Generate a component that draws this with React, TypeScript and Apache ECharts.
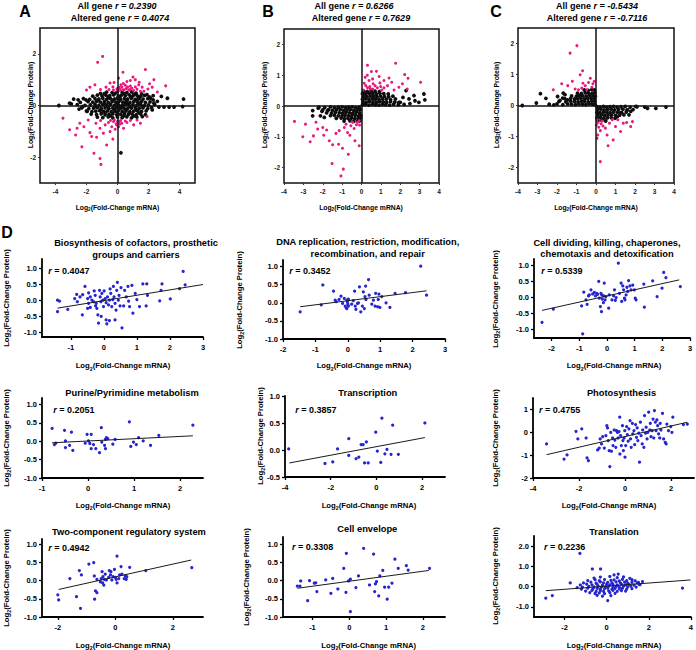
import React, { useEffect, useRef } from "react";
import * as echarts from "echarts";

type P = [number, number];
const FONT = "'Liberation Sans', Arial, Helvetica, sans-serif";
const PINK = "#e8187c";
const BLUE = "#2626cf";

// ---------------- Panel A ----------------
const aTitle = ["0.2390", "0.4074"];
const aBlack: P[] = [
  [-1.1,0.47],[-0.7,0.52],[-0.35,0.5],[0.0,0.55],[0.3,0.52],[0.6,0.5],[0.9,0.53],[1.2,0.48],[1.55,0.45],[1.9,0.42],[2.3,0.38],
  [-1.6,0.36],[-1.3,0.4],[-1.0,0.37],[-0.75,0.4],[-0.5,0.38],[-0.25,0.41],[0.05,0.37],[0.25,0.4],[0.5,0.38],[0.75,0.41],[1.0,0.37],[1.25,0.4],[1.5,0.36],[1.75,0.39],[2.05,0.33],
  [-2.2,0.27],[-1.8,0.24],[-1.45,0.27],[-1.2,0.25],[-0.95,0.28],[-0.7,0.24],[-0.45,0.27],[-0.2,0.25],[0.0,0.28],[0.2,0.24],[0.45,0.27],[0.65,0.25],[0.9,0.28],[1.15,0.24],[1.4,0.27],[1.65,0.25],[1.95,0.27],[2.3,0.22],
  [-2.4,0.12],[-1.9,0.15],[-1.6,0.13],[-1.35,0.16],[-1.1,0.13],[-0.85,0.15],[-0.6,0.12],[-0.35,0.15],[-0.1,0.13],[0.1,0.16],[0.35,0.13],[0.55,0.15],[0.8,0.12],[1.05,0.15],[1.3,0.13],[1.55,0.16],[1.8,0.12],[2.1,0.14],
  [-2.6,0.03],[-2.1,0.0],[-1.75,0.02],[-1.45,0.04],[-1.2,0.0],[-0.95,0.03],[-0.7,0.01],[-0.45,0.04],[-0.2,0.0],[0.05,0.03],[0.3,0.01],[0.5,0.04],[0.75,0.0],[1.0,0.03],[1.25,0.01],[1.5,0.04],[1.75,0.0],[2.0,0.02],[2.4,0.03],
  [-2.3,-0.09],[-1.85,-0.12],[-1.55,-0.1],[-1.3,-0.08],[-1.05,-0.11],[-0.8,-0.09],[-0.55,-0.12],[-0.3,-0.1],[-0.05,-0.08],[0.2,-0.11],[0.4,-0.09],[0.65,-0.12],[0.9,-0.1],[1.15,-0.08],[1.4,-0.11],[1.65,-0.09],[1.95,-0.12],[2.2,-0.08],
  [-2.0,-0.21],[-1.65,-0.24],[-1.4,-0.22],[-1.15,-0.2],[-0.9,-0.23],[-0.65,-0.21],[-0.4,-0.24],[-0.15,-0.22],[0.05,-0.2],[0.3,-0.23],[0.55,-0.21],[0.8,-0.24],[1.05,-0.22],[1.3,-0.2],[1.55,-0.23],[1.85,-0.21],
  [-1.7,-0.33],[-1.35,-0.35],[-1.05,-0.32],[-0.8,-0.36],[-0.55,-0.34],[-0.3,-0.32],[-0.05,-0.36],[0.2,-0.34],[0.45,-0.32],[0.7,-0.35],[0.95,-0.33],[1.2,-0.36],[1.5,-0.33],[1.8,-0.35],
  [-1.3,-0.45],[-0.95,-0.47],[-0.6,-0.44],[-0.3,-0.48],[0.0,-0.45],[0.3,-0.47],[0.6,-0.44],[0.9,-0.48],[1.25,-0.45],[1.6,-0.43],
  [-0.85,0.46],[-0.15,0.47],[0.45,0.46],[1.05,0.44],[-0.6,0.32],[0.15,0.31],[0.85,0.33],[1.35,0.32],[-1.25,0.2],[-0.3,0.2],[0.6,0.2],[1.25,0.19],[-0.85,0.07],[-0.05,0.07],[0.65,0.07],[1.4,0.08],
  [-1.45,-0.04],[-0.6,-0.04],[0.15,-0.04],[0.85,-0.05],[1.6,-0.04],[-1.05,-0.16],[-0.2,-0.16],[0.5,-0.16],[1.2,-0.15],[-0.8,-0.28],[0.0,-0.28],[0.75,-0.29],[1.35,-0.28],[-0.45,-0.4],[0.4,-0.4],[1.05,-0.41],
  [-3.78,0.0],[-3.09,0.09],[-2.83,0.25],[-2.98,0.06],[-2.54,0.22],[-2.48,-0.14],[-2.26,-0.04],[-2.04,0.22],[-1.96,-0.23],[2.67,-0.06],[3.0,-0.06],[3.22,0.28],[3.33,-0.06],[3.65,-0.06],[4.26,0.25],[4.2,-0.04],[2.83,0.35],[2.57,0.16],[2.35,0.09],[2.24,-0.17],[2.13,0.28],[0.22,-1.83],
];
const aPink: P[] = [
  [-1.28,1.67],[-0.96,1.9],[0.35,1.29],[1.8,1.39],[1.0,1.1],[1.15,1.0],[2.35,1.0],[2.07,0.84],[3.11,0.76],[0.61,0.93],[0.83,0.97],[-0.22,0.89],[0.07,1.06],[1.37,0.8],[1.59,0.71],[-1.78,0.71],[-1.46,0.8],[-0.48,0.87],[-0.74,0.71],[0.28,0.71],[0.43,0.61],[0.57,0.66],[0.72,0.6],[0.93,0.67],[1.04,0.58],[1.26,0.63],[1.48,0.55],[0.17,0.62],[-0.04,0.65],[-0.26,0.6],[0.22,0.8],[0.5,0.78],[0.83,0.75],[1.15,0.72],[1.7,0.55],[-2.0,0.6],[1.96,0.64],[2.57,0.52],[2.24,0.71],[-1.1,0.62],[-0.55,0.62],[0.1,0.7],[0.38,0.85],[0.65,0.72],[-0.3,0.72],[1.4,0.9],[0.0,0.58],[0.35,0.6],[0.8,0.62],
  [-3.52,-0.49],[-3.09,-0.94],[-2.7,-1.14],[-2.61,-0.88],[-2.43,-0.69],[-2.17,-0.82],[-1.89,-0.56],[-1.78,-1.05],[-1.67,-1.2],[-1.35,-1.23],[-1.39,-0.69],[-1.13,-0.88],[-1.09,-0.58],[-0.91,-1.07],[-0.7,-1.53],[-1.52,-1.85],[-1.07,-2.28],[-1.13,-2.05],[-0.8,-0.75],[-0.59,-0.66],[-0.37,-0.82],[-0.26,-0.62],[-0.09,-0.71],[0.07,-0.82],[0.13,-0.62],[0.28,-0.69],[-0.15,-0.92],[-0.48,-1.01],[0.39,-0.88],[0.61,-0.66],[0.83,-0.58],[1.04,-0.75],[1.26,-0.56],[1.48,-0.69],[1.91,-0.43],[-0.2,-0.56],[0.0,-0.62],[0.2,-0.58],[-0.45,-0.58],[0.5,-0.6],[-0.05,-0.75],[0.15,-0.72],[-2.3,-1.6],[-0.3,-1.3],
];

// ---------------- Panel B ----------------
const bTitle = ["0.6266", "0.7629"];
const bBlack: P[] = [
  [0.05,0.04],[0.2,0.05],[0.38,0.03],[0.55,0.05],[0.72,0.04],[0.9,0.03],[1.08,0.05],[1.25,0.04],[1.45,0.03],[1.65,0.05],[1.9,0.04],[2.2,0.05],
  [0.08,0.13],[0.25,0.12],[0.42,0.14],[0.6,0.13],[0.78,0.12],[0.95,0.14],[1.12,0.13],[1.3,0.12],[1.5,0.14],[1.72,0.13],[2.0,0.12],
  [0.05,0.22],[0.2,0.23],[0.38,0.21],[0.55,0.23],[0.72,0.22],[0.9,0.21],[1.08,0.23],[1.28,0.22],[1.5,0.21],[1.75,0.23],
  [0.1,0.31],[0.28,0.3],[0.45,0.32],[0.62,0.31],[0.8,0.3],[0.98,0.32],[1.18,0.31],[1.4,0.3],[1.62,0.32],
  [0.05,0.4],[0.22,0.39],[0.4,0.41],[0.58,0.4],[0.76,0.39],[0.95,0.41],[1.15,0.4],[1.38,0.39],
  [0.12,0.48],[0.3,0.47],[0.5,0.49],[0.7,0.48],[0.92,0.47],
  [3.22,0.39],[3.27,0.2],[2.71,0.34],[2.76,0.17],[2.45,0.23],[2.14,0.28],[2.96,0.12],[1.93,0.12],[2.5,0.08],[2.3,0.5],
  [-2.2,-0.04],[-1.9,-0.05],[-1.6,-0.03],[-1.4,-0.05],[-1.2,-0.04],[-1.0,-0.03],[-0.82,-0.05],[-0.65,-0.04],[-0.48,-0.03],[-0.3,-0.05],[-0.12,-0.04],
  [-2.0,-0.13],[-1.7,-0.12],[-1.5,-0.14],[-1.3,-0.13],[-1.1,-0.12],[-0.92,-0.14],[-0.75,-0.13],[-0.58,-0.12],[-0.4,-0.14],[-0.22,-0.13],[-0.06,-0.12],
  [-1.8,-0.22],[-1.55,-0.23],[-1.35,-0.21],[-1.15,-0.22],[-0.98,-0.23],[-0.8,-0.21],[-0.62,-0.22],[-0.45,-0.23],[-0.28,-0.21],[-0.1,-0.22],
  [-1.6,-0.31],[-1.4,-0.3],[-1.2,-0.32],[-1.0,-0.31],[-0.85,-0.3],[-0.68,-0.32],[-0.5,-0.31],[-0.32,-0.3],[-0.15,-0.32],[-0.03,-0.31],
  [-1.3,-0.4],[-1.05,-0.39],[-0.88,-0.41],[-0.7,-0.4],[-0.52,-0.39],[-0.35,-0.41],[-0.18,-0.4],[-0.05,-0.39],
  [-0.9,-0.49],[-0.6,-0.48],[-0.4,-0.5],[-0.2,-0.49],[-0.08,-0.48],
  [-2.52,-0.15],[-2.23,-0.07],[-2.04,-0.17],[-1.92,-0.37],[-2.12,-0.32],[-1.75,-0.15],[-2.52,-0.32],
];
const bPink: P[] = [
  [0.31,1.32],[0.51,1.12],[0.77,1.13],[1.76,1.39],[2.23,1.02],[2.4,0.9],[3.05,0.77],[0.19,0.93],[0.39,0.83],[0.57,0.88],[0.91,0.96],[1.16,0.83],[1.42,0.91],[1.56,0.77],[0.22,0.66],[0.31,0.59],[0.43,0.63],[0.57,0.55],[0.7,0.66],[0.82,0.59],[0.99,0.63],[1.16,0.59],[1.34,0.66],[0.09,0.52],[1.93,0.61],[2.11,0.72],[2.36,0.55],[0.14,0.74],[1.68,0.52],[0.6,0.72],[0.95,0.75],[0.45,0.55],[1.05,0.52],[0.3,1.0],
  [-3.46,-0.5],[-2.89,-0.59],[-3.03,-1.0],[-2.65,-1.16],[-2.48,-0.97],[-2.26,-0.75],[-2.0,-0.7],[-1.8,-0.78],[-1.66,-1.13],[-1.49,-1.26],[-1.52,-1.87],[-0.94,-2.05],[-1.06,-2.27],[-1.18,-1.24],[-0.98,-1.37],[-0.68,-1.57],[-1.32,-0.89],[-1.15,-0.8],[-0.89,-0.7],[-0.72,-0.86],[-0.55,-0.64],[-0.38,-0.73],[-0.26,-0.61],[-0.12,-0.48],[-0.21,-0.53],[-0.46,-0.53],[-0.8,-0.59],[-0.34,-1.13],[-0.12,-1.29],[-2.35,-0.53],[-0.1,-0.62],[-0.6,-0.95],[-1.95,-0.95],
];

// ---------------- Panel C ----------------
const cTitle = ["-0.5434", "-0.7116"];
const cBlack: P[] = [
  [-2.4,0.04],[-2.0,0.05],[-1.7,0.03],[-1.45,0.05],[-1.25,0.04],[-1.05,0.03],[-0.88,0.05],[-0.7,0.04],[-0.52,0.03],[-0.35,0.05],[-0.18,0.04],[-0.05,0.03],
  [-1.9,0.13],[-1.55,0.12],[-1.3,0.14],[-1.1,0.13],[-0.92,0.12],[-0.75,0.14],[-0.58,0.13],[-0.4,0.12],[-0.22,0.14],[-0.06,0.13],
  [-1.6,0.22],[-1.3,0.23],[-1.1,0.21],[-0.95,0.22],[-0.78,0.23],[-0.6,0.21],[-0.42,0.22],[-0.25,0.23],[-0.08,0.21],
  [-1.25,0.31],[-1.0,0.3],[-0.85,0.32],[-0.68,0.31],[-0.5,0.3],[-0.32,0.32],[-0.15,0.31],[-0.04,0.3],
  [-0.95,0.4],[-0.75,0.39],[-0.55,0.41],[-0.38,0.4],[-0.2,0.39],[-0.06,0.41],
  [-0.6,0.5],[-0.4,0.49],[-0.22,0.51],[-0.08,0.5],
  [-3.78,0.0],[-3.06,0.08],[-2.85,0.38],[-2.57,0.23],[-2.16,0.02],[-1.97,0.29],[-1.85,0.16],[-1.71,0.24],[-1.59,0.35],[-1.68,0.4],[-1.47,0.18],
  [0.05,-0.04],[0.2,-0.05],[0.38,-0.03],[0.55,-0.05],[0.72,-0.04],[0.9,-0.03],[1.08,-0.05],[1.28,-0.04],[1.5,-0.03],[1.75,-0.05],[2.1,-0.04],[2.5,-0.05],
  [0.08,-0.13],[0.25,-0.12],[0.42,-0.14],[0.6,-0.13],[0.78,-0.12],[0.95,-0.14],[1.15,-0.13],[1.38,-0.12],[1.6,-0.14],[1.9,-0.13],
  [0.05,-0.22],[0.2,-0.23],[0.38,-0.21],[0.55,-0.22],[0.72,-0.23],[0.9,-0.21],[1.1,-0.22],[1.32,-0.23],[1.55,-0.21],
  [0.1,-0.31],[0.28,-0.3],[0.45,-0.32],[0.62,-0.31],[0.8,-0.3],[1.0,-0.32],[1.22,-0.31],
  [0.05,-0.4],[0.22,-0.39],[0.4,-0.41],[0.58,-0.4],[0.78,-0.39],[0.98,-0.41],
  [0.1,-0.49],[0.3,-0.48],[0.5,-0.5],
  [3.59,-0.05],[3.07,-0.09],[2.64,-0.09],[2.04,-0.03],[1.78,-0.19],[1.61,-0.14],[1.43,-0.3],[1.69,-0.3],[1.26,-0.23],[1.09,-0.36],
];
const cPink: P[] = [
  [-0.98,1.93],[-1.33,1.69],[-0.69,1.12],[-0.81,0.99],[-0.29,0.88],[-0.38,0.74],[-0.09,0.78],[-1.21,0.78],[-1.45,0.64],[-1.76,0.7],[-2.19,0.51],[-1.07,0.53],[-0.9,0.51],[-0.73,0.56],[-0.55,0.64],[-0.47,0.51],[-0.21,0.59],[-0.67,0.72],[-0.16,0.7],
  [0.05,-0.46],[0.02,-0.63],[0.05,-1.06],[0.14,-0.7],[0.26,-0.59],[0.36,-0.66],[0.22,-0.81],[0.48,-0.73],[0.69,-0.57],[0.57,-0.95],[0.62,-1.3],[0.88,-1.11],[0.22,-1.81],[1.0,-0.68],[1.26,-0.84],[1.57,-0.55],[1.78,-0.68],[1.87,-0.52],[1.4,-0.57],[1.12,-0.46],[0.83,-0.46],[0.09,-0.95],[0.1,-0.55],[0.3,-0.5],
];

// ---------------- Panel D ----------------
const dTitles: string[][] = [
  ["Biosynthesis of cofactors, prosthetic", "groups and carriers"],
  ["DNA replication, restriction, modification,", "recombination, and repair"],
  ["Cell dividing, killing, chaperones,", "chemotaxis and detoxification"],
  ["Purine/Pyrimidine metabolism"],
  ["Transcription"],
  ["Photosynthesis"],
  ["Two-component regulatory system"],
  ["Cell envelope"],
  ["Translation"],
];
const dR = ["0.4047", "0.3452", "0.5339", "0.2051", "0.3857", "0.4755", "0.4942", "0.3308", "0.2236"];

const d1: P[] = [[-1.4,0.01],[-1.34,-0.02],[-1.4,-0.35],[-1.09,-0.28],[-0.88,0.06],[-0.8,-0.04],[-0.64,0.18],[-0.65,-0.45],[-0.57,0.44],[-0.49,0.06],[-0.46,0.24],[-0.46,-0.09],[-0.49,-0.25],[-0.41,-0.22],[-0.36,0.01],[-0.29,0.3],[-0.26,0.16],[-0.23,-0.09],[-0.21,-0.25],[-0.18,-0.45],[-0.16,-0.71],[-0.13,0.32],[-0.11,0.11],[-0.09,-0.04],[-0.08,-0.5],[-0.06,0.22],[-0.03,0.01],[-0.01,-0.19],[0.01,0.3],[0.04,0.06],[0.07,-0.07],[0.07,-0.61],[0.09,-0.73],[0.11,0.11],[0.14,-0.14],[0.17,0.01],[0.17,-0.63],[0.19,0.36],[0.21,0.22],[0.24,-0.19],[0.27,0.03],[0.29,0.44],[0.31,0.11],[0.34,-0.09],[0.34,-0.61],[0.37,-0.3],[0.39,0.32],[0.41,0.57],[0.44,0.01],[0.46,0.16],[0.49,-0.17],[0.52,0.4],[0.55,-0.86],[0.6,-0.17],[0.63,0.32],[0.68,0.11],[0.73,0.44],[0.75,-0.02],[0.78,-0.19],[0.85,0.47],[0.88,-0.4],[0.95,0.22],[1.0,0.03],[1.08,-0.19],[1.18,0.52],[1.3,0.52],[1.28,-0.17],[1.32,0.16],[1.69,-0.01],[1.76,0.52],[1.73,0.32],[2.01,0.05],[2.29,0.37],[2.4,0.91],[2.46,0.49],[-0.82,0.19],[-0.72,0.11],[-0.41,0.11],[-0.31,-0.04],[-0.25,-0.17]];
const d2: P[] = [[-1.47,-0.25],[-0.77,0.49],[-0.82,-0.06],[-0.44,0.32],[-0.39,0.07],[-0.36,0.03],[-0.27,0.09],[-0.21,0.18],[-0.16,-0.02],[-0.11,0.12],[-0.08,-0.09],[-0.05,-0.14],[-0.03,0.07],[-0.01,0.02],[0.0,-0.04],[0.02,0.1],[0.02,-0.09],[-0.03,-0.16],[0.12,-0.04],[0.17,0.06],[0.21,0.32],[0.23,-0.09],[0.25,-0.18],[0.3,-0.02],[0.33,0.0],[0.36,0.44],[0.4,-0.25],[0.45,-0.09],[0.48,0.3],[0.51,-0.16],[0.53,0.17],[0.56,0.09],[0.55,0.46],[0.64,0.64],[0.66,0.21],[0.74,-0.04],[0.79,0.07],[0.84,-0.09],[0.86,0.26],[0.92,-0.11],[0.96,0.24],[0.94,0.09],[0.99,-0.13],[1.05,0.17],[1.18,0.0],[1.3,-0.13],[1.46,0.26],[1.78,0.28],[2.25,1.01],[2.43,0.21]];
const d3: P[] = [[-2.35,-0.77],[-1.94,-0.36],[-0.88,-1.13],[-0.92,-0.26],[-0.84,0.17],[-0.76,-0.07],[-0.72,-0.21],[-0.67,0.05],[-0.64,0.08],[-0.58,0.24],[-0.52,0.11],[-0.46,0.16],[-0.42,0.05],[-0.37,0.13],[-0.34,0.1],[-0.3,0.5],[-0.28,-0.02],[-0.24,-0.28],[-0.22,0.13],[-0.2,-0.44],[-0.19,0.08],[-0.17,-0.05],[-0.13,-0.16],[-0.12,0.05],[-0.1,0.45],[-0.07,-0.07],[-0.04,0.03],[0.06,-0.33],[0.08,0.08],[0.18,-0.07],[0.24,0.05],[0.27,0.24],[0.3,-0.09],[0.33,0.0],[0.41,1.07],[0.45,0.13],[0.51,0.45],[0.53,-0.12],[0.57,0.36],[0.6,0.24],[0.63,-0.02],[0.65,-0.07],[0.69,0.08],[0.72,0.32],[0.75,0.19],[0.78,0.53],[0.83,0.36],[0.87,0.24],[0.93,0.39],[0.99,0.24],[1.02,-0.02],[1.05,-0.07],[1.35,-0.3],[1.33,0.42],[1.65,0.52],[1.81,0.03],[1.99,0.29],[2.05,0.78],[2.13,0.62],[2.65,0.34]];
const d4: P[] = [[-0.78,0.35],[-0.73,-0.09],[-0.7,-0.05],[-0.51,0.3],[-0.49,0.01],[-0.49,-0.17],[-0.4,-0.11],[-0.36,0.25],[-0.33,-0.25],[-0.06,-0.05],[-0.02,0.19],[0.01,0.01],[0.04,-0.06],[0.07,0.19],[0.07,-0.2],[0.12,-0.09],[0.17,-0.2],[0.25,-0.31],[0.29,0.37],[0.3,-0.02],[0.36,-0.11],[0.38,0.05],[0.4,0.1],[0.43,0.07],[0.38,-0.2],[0.54,-0.08],[0.59,0.05],[0.9,0.53],[0.93,-0.14],[0.99,-0.02],[1.05,-0.09],[1.1,0.1],[1.2,0.01],[1.36,-0.11],[1.54,0.16],[2.28,0.44]];
const d5: P[] = [[-3.84,0.02],[-2.25,-0.25],[-1.91,-0.22],[-1.7,0.02],[-1.21,0.21],[-1.21,-0.1],[-0.89,-0.16],[-0.77,-0.13],[-0.67,0.1],[-0.58,0.1],[-0.52,-0.24],[-0.44,0.15],[-0.36,-0.24],[-0.03,0.33],[0.04,-0.02],[0.19,-0.23],[0.24,0.59],[0.37,-0.07],[0.46,0.01],[0.64,-0.08],[0.71,0.46],[0.96,-0.08],[2.12,0.5]];
const d6: P[] = [[-3.41,-0.51],[-2.65,-1.17],[-2.52,-0.99],[-2.13,0.04],[-2.05,-0.29],[-1.88,0.15],[-1.69,-0.25],[-1.65,-1.12],[-1.59,-1.24],[-1.19,-0.77],[-1.12,-0.69],[-1.08,-0.29],[-1.02,-0.51],[-0.97,-0.19],[-0.9,-0.69],[-0.83,-0.15],[-0.79,0.29],[-0.76,0.19],[-0.73,-0.36],[-0.69,-0.8],[-0.66,-1.5],[-0.62,0.0],[-0.59,-0.83],[-0.54,-0.25],[-0.52,-0.58],[-0.47,0.1],[-0.44,-0.34],[-0.4,-0.66],[-0.37,0.07],[-0.33,0.0],[-0.3,-0.25],[-0.26,0.03],[-0.23,0.66],[-0.22,-0.95],[-0.19,-0.15],[-0.16,-0.58],[-0.11,0.29],[-0.09,-0.36],[-0.07,-0.8],[-0.04,-0.25],[-0.01,0.07],[0.0,-1.09],[0.03,-0.58],[0.07,0.25],[0.1,-0.1],[0.14,-0.39],[0.17,0.15],[0.22,0.51],[0.24,-0.29],[0.27,-0.66],[0.32,0.39],[0.34,-0.07],[0.39,0.07],[0.42,-0.54],[0.46,0.34],[0.5,-0.22],[0.53,0.19],[0.56,-0.36],[0.6,-0.04],[0.63,-1.31],[0.67,0.44],[0.7,-0.15],[0.75,-0.51],[0.77,0.1],[0.82,-0.66],[0.85,0.73],[0.89,-0.04],[0.92,0.22],[0.96,-0.29],[0.99,0.0],[1.03,0.88],[1.08,0.1],[1.1,0.39],[1.13,-0.19],[1.18,0.07],[1.22,0.58],[1.25,-0.25],[1.28,0.95],[1.32,0.44],[1.35,0.07],[1.39,0.54],[1.42,0.29],[1.46,-0.07],[1.51,-0.25],[1.53,0.39],[1.56,0.1],[1.63,0.83],[1.68,-0.29],[1.75,-0.44],[1.79,-0.51],[1.82,0.36],[1.89,0.07],[1.99,0.25],[2.04,0.0],[2.08,0.66],[2.54,0.34],[2.71,0.36]];
const d7: P[] = [[-2.0,-0.39],[-1.97,-0.53],[-1.58,0.06],[-1.35,-0.44],[-1.25,0.28],[-1.21,-0.76],[-1.18,0.16],[-0.92,0.46],[-0.75,0.5],[-0.73,0.13],[-0.72,-0.51],[-0.69,-0.28],[-0.64,-0.33],[-0.64,0.04],[-0.52,-0.03],[-0.49,0.06],[-0.46,0.25],[-0.44,-0.06],[-0.43,0.11],[-0.4,-0.12],[-0.38,0.04],[-0.35,0.18],[-0.31,0.02],[-0.23,0.09],[-0.21,0.28],[-0.17,0.16],[-0.15,0.25],[-0.12,0.02],[-0.08,0.11],[-0.03,0.31],[0.0,0.09],[0.03,0.04],[0.06,0.68],[0.06,-0.06],[0.12,0.06],[0.15,0.16],[0.2,0.39],[0.23,0.18],[0.31,0.06],[0.35,0.13],[0.38,0.04],[0.4,0.11],[0.5,0.37],[1.06,0.28],[2.66,0.36]];
const d8: P[] = [[-1.41,-0.15],[-1.32,-0.01],[-1.34,-0.15],[-1.13,-0.55],[-1.08,0.0],[-0.95,-0.07],[-0.91,-0.06],[-0.88,-0.3],[-0.64,0.02],[-0.5,-0.35],[-0.45,0.06],[-0.31,-0.23],[-0.15,0.34],[-0.08,0.75],[-0.09,-0.32],[-0.02,-0.01],[0.03,0.04],[0.03,-0.85],[0.18,-0.19],[0.25,0.13],[0.39,0.89],[0.55,-0.12],[0.66,0.73],[0.69,-0.3],[0.71,-0.09],[0.74,-0.03],[0.8,-0.42],[0.83,0.13],[0.91,0.28],[0.96,-0.18],[1.03,-0.51],[1.07,-0.18],[1.16,-0.07],[1.24,0.59],[1.33,0.34],[1.55,0.41],[1.6,0.29],[2.18,0.34]];
const d9: P[] = [
  [-0.6,0.42],[-0.3,0.47],[0.15,0.5],[0.5,0.44],[0.8,0.48],[1.1,0.41],[0.55,0.62],[0.35,0.58],
  [-0.9,0.3],[-0.55,0.34],[-0.35,0.29],[-0.1,0.35],[0.2,0.31],[0.35,0.33],[0.6,0.28],[0.75,0.36],[0.95,0.3],[1.2,0.34],[1.35,0.29],
  [-1.1,0.18],[-0.75,0.22],[-0.5,0.17],[-0.3,0.23],[-0.15,0.19],[0.05,0.21],[0.25,0.18],[0.45,0.24],[0.65,0.19],[0.85,0.22],[1.0,0.17],[1.2,0.21],[1.45,0.19],
  [-1.25,0.08],[-0.95,0.12],[-0.7,0.09],[-0.45,0.11],[-0.2,0.07],[0.0,0.12],[0.15,0.09],[0.3,0.11],[0.5,0.08],[0.7,0.12],[0.9,0.09],[1.05,0.11],[1.3,0.07],[1.55,0.1],
  [-1.15,-0.02],[-0.85,0.01],[-0.6,-0.01],[-0.4,0.02],[-0.25,-0.03],[-0.05,0.0],[0.1,0.03],[0.3,-0.02],[0.45,0.01],[0.6,-0.03],[0.8,0.02],[1.0,-0.01],[1.15,0.03],[1.4,-0.02],
  [-1.2,-0.12],[-0.9,-0.08],[-0.65,-0.11],[-0.45,-0.09],[-0.3,-0.13],[-0.1,-0.1],[0.05,-0.07],[0.25,-0.12],[0.4,-0.09],[0.6,-0.11],[0.75,-0.08],[0.95,-0.12],[1.2,-0.1],
  [-1.0,-0.22],[-0.7,-0.19],[-0.5,-0.23],[-0.3,-0.2],[-0.15,-0.24],[0.1,-0.21],[0.3,-0.18],[0.5,-0.23],[0.7,-0.2],[0.9,-0.22],
  [-0.8,-0.3],[-0.55,-0.34],[-0.35,-0.31],[-0.1,-0.35],[0.15,-0.3],[0.4,-0.33],
  [-0.45,-0.43],[-0.2,-0.47],[0.2,-0.44],
  [-2.89,-0.57],[-2.58,-0.44],[-1.73,0.18],[-1.27,1.64],[-0.68,0.87],[-0.29,0.87],[0.05,-0.69],[3.6,-0.07],[1.51,0.21],[1.59,0.1],[-1.4,-0.05],[1.7,0.25],
];
const dPoints: P[][] = [d1, d2, d3, d4, d5, d6, d7, d8, d9];
const dFits: P[][] = [
  [[-1.4,-0.24],[3.0,0.5]],
  [[-1.47,-0.11],[2.43,0.33]],
  [[-2.35,-0.4],[2.61,0.55]],
  [[-0.78,-0.04],[2.28,0.15]],
  [[-3.81,-0.24],[2.12,0.23]],
  [[-3.41,-0.98],[2.71,0.44]],
  [[-1.97,-0.24],[2.64,0.57]],
  [[-1.41,-0.21],[2.16,0.28]],
  [[-2.89,-0.2],[3.98,0.33]],
];
const dXRange: P[] = [[-1.87,3],[-2,3],[-2.64,3],[-1,2.5],[-4,3],[-4,3],[-2.55,3.05],[-1.8,2.6],[-3.45,4]];
const dYRange: P[] = [[-1.145,1.3],[-1,1.18],[-1.26,1.2],[-1,1.18],[-0.5,1],[-2,1.5],[-1,1.15],[-1,1.2],[-1.5,2.5]];
const dXTicks: number[][] = [[-1,0,1,2,3],[-2,-1,0,1,2,3],[-2,-1,0,1,2,3],[-1,0,1,2],[-4,-2,0,2],[-4,-2,0,2],[-2,0,2],[-1,0,1,2],[-2,0,2,4]];
const dYTicks: number[][] = [[-1,-0.5,0,0.5,1],[-1,-0.5,0,0.5,1],[-1,-0.5,0,0.5,1],[-1,-0.5,0,0.5,1],[-0.5,0,0.5,1],[-2,-1,0,1],[-1,-0.5,0,0.5,1],[-1,-0.5,0,0.5,1],[-1,0,1,2]];
const dYDec = [1,1,1,1,1,0,1,1,1];

// ---------------- Layout (positions only) ----------------
const abcGrids = [
  { left: 40, top: 28, width: 155, height: 155 },
  { left: 284, top: 29, width: 155, height: 154 },
  { left: 518, top: 28, width: 156, height: 155 },
];
const dGrids = [
  { left: 42, top: 259, width: 161, height: 78 },
  { left: 283, top: 260, width: 162, height: 79 },
  { left: 534, top: 259, width: 156, height: 79 },
  { left: 42, top: 398, width: 161, height: 80 },
  { left: 285, top: 396, width: 160, height: 81 },
  { left: 533, top: 398, width: 161, height: 80 },
  { left: 42, top: 539, width: 161, height: 78 },
  { left: 283, top: 537, width: 162, height: 80 },
  { left: 534, top: 536, width: 160, height: 81 },
];

function txt(x: number, y: number, style: any, rotation = 0) {
  return { type: "text", x, y, rotation, silent: true, style: { fill: "#000", fontFamily: FONT, fontWeight: "bold", align: "center", verticalAlign: "middle", ...style } };
}
function logText(kind: string, size: number) {
  return {
    text: `{a|Log}{s|2}{a|(Fold-Change ${kind})}`,
    rich: {
      a: { fontSize: size, fontWeight: "bold", fontFamily: FONT, fill: "#000", lineHeight: size + 3 },
      s: { fontSize: size * 0.68, fontWeight: "bold", fontFamily: FONT, fill: "#000", verticalAlign: "bottom" },
    },
  };
}
function titleText(label: string, r: string, size: number) {
  return {
    text: `{n|${label} }{i|r = ${r}}`,
    rich: {
      n: { fontSize: size, fontWeight: "bold", fontFamily: FONT, fill: "#000" },
      i: { fontSize: size, fontWeight: "bold", fontStyle: "italic", fontFamily: FONT, fill: "#000" },
    },
  };
}
function rText(r: string, size: number) {
  return {
    text: `{i|r}{n| = ${r}}`,
    align: "left",
    rich: {
      n: { fontSize: size, fontWeight: "bold", fontFamily: FONT, fill: "#000" },
      i: { fontSize: size, fontWeight: "bold", fontStyle: "italic", fontFamily: FONT, fill: "#000" },
    },
  };
}

export default function App() {
  const ref = useRef<HTMLDivElement>(null);
  useEffect(() => {
    if (!ref.current) return;
    const chart = echarts.init(ref.current, null, { renderer: "svg" });

    const grids: any[] = [];
    const xAxes: any[] = [];
    const yAxes: any[] = [];
    const series: any[] = [];
    const g: any[] = [];

    const abcX: P[] = [[-5,5],[-4,4],[-4,4]];
    const abcY: P[] = [[-3,3],[-2.5,2.5],[-2.5,2.5]];
    const abcXT = [[-4,-2,0,2,4],[-4,-3,-2,-1,0,1,2,3,4],[-4,-3,-2,-1,0,1,2,3,4]];
    const abcYT = [[-2,0,2],[-2,-1,0,1,2],[-2,-1,0,1,2]];
    const abcBlack = [aBlack, bBlack, cBlack];
    const abcPink = [aPink, bPink, cPink];
    abcGrids.forEach((gr, i) => {
      grids.push({ ...gr, show: true, borderColor: "#111", borderWidth: 1.5, backgroundColor: "#fff" });
      const lbl = { color: "#222", fontSize: 6.5, fontWeight: "bold", fontFamily: FONT };
      xAxes.push({ type: "value", gridIndex: i, min: abcX[i][0], max: abcX[i][1],
        axisLine: { show: false, onZero: false }, splitLine: { show: false },
        axisTick: { show: true, length: 2, customValues: abcXT[i], lineStyle: { color: "#333" } },
        axisLabel: { ...lbl, margin: 5, customValues: abcXT[i], formatter: (v: number) => String(v) } });
      yAxes.push({ type: "value", gridIndex: i, min: abcY[i][0], max: abcY[i][1],
        axisLine: { show: false, onZero: false }, splitLine: { show: false },
        axisTick: { show: true, length: 2, customValues: abcYT[i], lineStyle: { color: "#333" } },
        axisLabel: { ...lbl, margin: 4, customValues: abcYT[i], formatter: (v: number) => String(v) } });
      series.push({ type: "scatter", xAxisIndex: i, yAxisIndex: i, data: abcBlack[i], symbolSize: 3.8,
        itemStyle: { color: "#0d0d0d", opacity: 1 }, silent: true,
        markLine: { silent: true, symbol: ["none", "none"], label: { show: false },
          lineStyle: { color: "#111", width: 1.5, type: "solid" }, data: [{ xAxis: 0 }, { yAxis: 0 }] } });
      series.push({ type: "scatter", xAxisIndex: i, yAxisIndex: i, data: abcPink[i], symbolSize: 3,
        itemStyle: { color: PINK, opacity: 1 }, silent: true });
    });

    dGrids.forEach((gr, k) => {
      const i = k + 3;
      grids.push({ ...gr });
      const lbl = { color: "#000", fontSize: 7.5, fontWeight: "bold", fontFamily: FONT };
      const line = { show: true, onZero: false, lineStyle: { color: "#000", width: 1.8 } };
      const tick = { show: true, length: 3, lineStyle: { color: "#000", width: 1.3 } };
      xAxes.push({ type: "value", gridIndex: i, min: dXRange[k][0], max: dXRange[k][1],
        axisLine: line, splitLine: { show: false },
        axisTick: { ...tick, customValues: dXTicks[k] },
        axisLabel: { ...lbl, margin: 6, customValues: dXTicks[k], formatter: (v: number) => String(v) } });
      yAxes.push({ type: "value", gridIndex: i, min: dYRange[k][0], max: dYRange[k][1],
        axisLine: line, splitLine: { show: false },
        axisTick: { ...tick, customValues: dYTicks[k] },
        axisLabel: { ...lbl, margin: 5, customValues: dYTicks[k], formatter: (v: number) => v.toFixed(dYDec[k]) } });
      series.push({ type: "scatter", xAxisIndex: i, yAxisIndex: i, data: dPoints[k], symbolSize: 3.2,
        itemStyle: { color: BLUE, opacity: 1 }, silent: true });
      series.push({ type: "line", xAxisIndex: i, yAxisIndex: i, data: dFits[k], symbol: "none", silent: true,
        lineStyle: { color: "#1a1a1a", width: 1 }, z: 3 });
    });

    g.push(txt(25, 11, { text: "A", fontSize: 16 }));
    g.push(txt(268, 11, { text: "B", fontSize: 16 }));
    g.push(txt(496, 11, { text: "C", fontSize: 16 }));
    g.push(txt(7, 232, { text: "D", fontSize: 16 }));

    const abcT = [aTitle, bTitle, cTitle];
    const t1x = [117, 354, 597];
    const t2x = [120, 361, 597];
    abcT.forEach((t, i) => {
      g.push(txt(t1x[i], 6, titleText("All gene", t[0], 9)));
      g.push(txt(t2x[i], 18, titleText("Altered gene", t[1], 9)));
    });
    const abcXt = [117.5, 361, 596];
    const abcYt = [30, 264, 496];
    abcXt.forEach((x) => g.push(txt(x, 207, logText("mRNA", 6.8))));
    abcYt.forEach((x) => g.push(txt(x, 105, logText("Protein", 6.8), Math.PI / 2)));

    const dTitlePos: P[] = [[136,243],[367.7,242],[607,242.5],[132,392.5],[367.8,392.5],[621.5,392.7],[129,531.7],[367.3,529],[614,531.7]];
    dTitles.forEach((lines, k) => {
      const [x, y] = dTitlePos[k];
      lines.forEach((ln, j) => g.push(txt(x, y + j * 11.8, { text: ln, fontSize: 9.3 })));
    });
    const rPos: P[] = [[48.3,271],[289.3,271],[541.3,271],[53.3,410],[295.3,410],[539,410],[48.3,548.3],[292,546.7],[544,546.7]];
    dR.forEach((r, k) => g.push(txt(rPos[k][0], rPos[k][1], rText(r, 9))));
    const dXtPos: P[] = [[123,365.7],[364,365.7],[614,365.7],[123,505],[369,505],[609,505],[123,645],[368.7,645],[614,645]];
    dXtPos.forEach(([x, y]) => g.push(txt(x, y, logText("mRNA", 7.7))));
    const dYtPos: P[] = [[6,298],[239.5,300],[495,299],[6,438],[260,436],[495,438],[6,578],[246,577],[495,576]];
    dYtPos.forEach(([x, y]) => g.push(txt(x, y, logText("Protein", 7.7), Math.PI / 2)));

    chart.setOption({
      animation: false,
      backgroundColor: "#fff",
      textStyle: { fontFamily: FONT },
      grid: grids,
      xAxis: xAxes,
      yAxis: yAxes,
      series,
      graphic: { elements: g },
    });
    return () => chart.dispose();
  }, []);
  return <div ref={ref} style={{ position: "fixed", left: 0, top: 0, width: 696, height: 650, background: "#fff" }} />;
}
